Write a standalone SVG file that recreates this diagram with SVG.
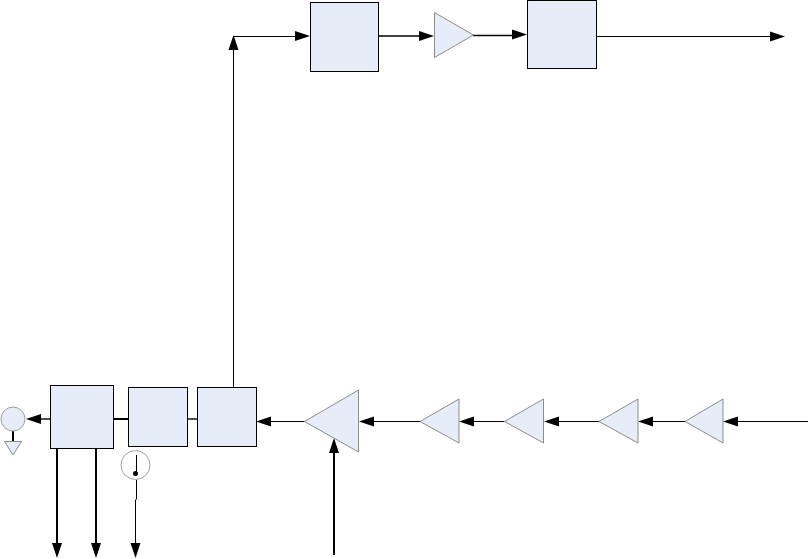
<svg xmlns="http://www.w3.org/2000/svg" width="808" height="559" viewBox="0 0 808 559">
<style>
.box{fill:#e6edf8;stroke:#000;stroke-width:1}
.tri{fill:#e6edf8;stroke:#8c8c8c;stroke-width:1}
.circ{fill:#e6edf8;stroke:#a0a0a0;stroke-width:1}
.thin{fill:none;stroke:#000;stroke-width:1}
.mid{fill:none;stroke:#000;stroke-width:1.4}
.thick{fill:none;stroke:#000;stroke-width:2}
.ah{fill:#000;stroke:none}
</style>
<rect width="808" height="559" fill="#fff"/>
<g id="connectors">
<path class="thin" d="M233.500 387V50"/>
<polygon class="ah" points="233.500,35 238.500,50 228.500,50"/>
<path class="thin" d="M233 36.500H296"/>
<polygon class="ah" points="310,36 295,31 295,41"/>
<path class="mid" d="M378 36H420"/>
<polygon class="ah" points="434,36 419,31 419,41"/>
<path class="mid" d="M473 35.500H513"/>
<polygon class="ah" points="527,34.500 512,29.500 512,39.500"/>
<path class="thin" d="M596 36.500H771"/>
<polygon class="ah" points="785,36.500 770,31.500 770,41.500"/>
<path class="thin" d="M808 421.500H737"/>
<polygon class="ah" points="723,421.500 738,416.500 738,426.500"/>
<path class="thin" d="M685 421.500H652"/>
<polygon class="ah" points="638,421.500 653,416.500 653,426.500"/>
<path class="thin" d="M599 421.500H558"/>
<polygon class="ah" points="544,421.500 559,416.500 559,426.500"/>
<path class="thin" d="M505 421.500H473"/>
<polygon class="ah" points="459,421.500 474,416.500 474,426.500"/>
<path class="thin" d="M420 421.500H373"/>
<polygon class="ah" points="359,421.500 374,416.500 374,426.500"/>
<path class="thin" d="M305 421.500H270"/>
<polygon class="ah" points="256,421.500 271,416.500 271,426.500"/>
<path class="thick" d="M334 555V452"/>
<polygon class="ah" points="334,438 339,453 329,453"/>
<path class="mid" d="M187 419H197"/>
<path class="thick" d="M113 419H128"/>
<path class="mid" d="M50 419H40"/>
<polygon class="ah" points="26,419 41,414 41,424"/>
<path class="thick" d="M13 431V441"/>
<path class="thick" d="M57 448V544"/>
<polygon class="ah" points="57,558 52,543 62,543"/>
<path class="thick" d="M96 448V544"/>
<polygon class="ah" points="96,558 91,543 101,543"/>
<path class="thin" d="M136.500 480V499L135.500 500V544"/>
<polygon class="ah" points="135.500,558 130.500,543 140.500,543"/>
</g>
<g id="box-1"><rect class="box" x="310.500" y="2.500" width="68" height="69"/></g>
<g id="box-2"><rect class="box" x="527.500" y="0.500" width="69" height="68"/></g>
<g id="box-3"><rect class="box" x="50.500" y="385.500" width="63" height="63"/></g>
<g id="box-4"><rect class="box" x="128.500" y="387.500" width="59" height="59"/></g>
<g id="box-5"><rect class="box" x="197.500" y="387.500" width="59" height="59"/></g>
<g id="amp-top"><polygon class="tri" points="434.500,12.500 473.500,35 434.500,57.500"/></g>
<g id="amp-main"><polygon class="tri" points="358.500,390 358.500,452 304.500,421.500"/></g>
<g id="amp-1"><polygon class="tri" points="459,399 459,443 420,421.500"/></g>
<g id="amp-2"><polygon class="tri" points="543.500,399 543.500,443 504.500,421.500"/></g>
<g id="amp-3"><polygon class="tri" points="638,399 638,443 599,421.500"/></g>
<g id="amp-4"><polygon class="tri" points="723,399 723,443 685,421.500"/></g>
<g id="probe"><circle class="circ" cx="13" cy="419" r="12"/><polygon class="tri" points="4.500,441.500 21.500,441.500 13,455"/></g>
<g id="meter"><circle cx="135.500" cy="465" r="14.500" fill="#fff" stroke="#a0a0a0"/><path class="thin" d="M136.500 455V473"/><circle cx="135.500" cy="473.500" r="2.500" fill="#000"/></g>
</svg>
